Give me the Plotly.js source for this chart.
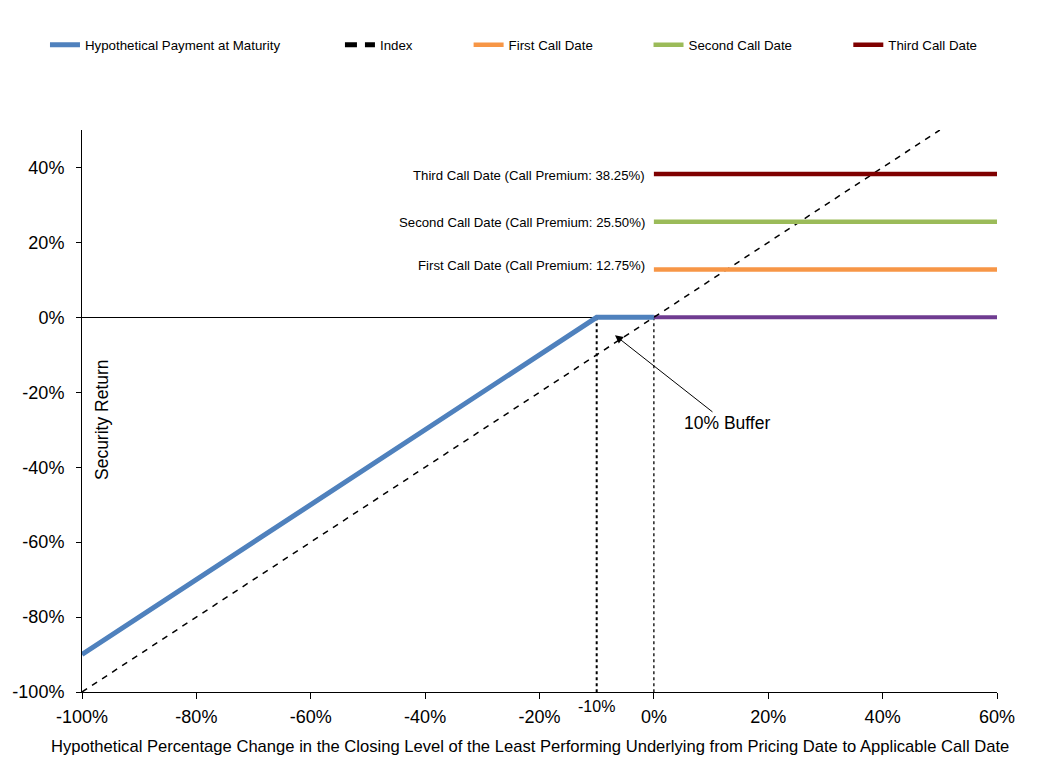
<!DOCTYPE html>
<html>
<head>
<meta charset="utf-8">
<script src="https://cdn.plot.ly/plotly-3.0.1.min.js"></script>
<style>html,body{margin:0;padding:0;background:#fff;}#chart{width:1046px;height:777px;}</style>
</head>
<body>
<div id="chart"></div>
<script>
// ---- data (percent) ----
const paymentX = [-100, -10, 0];
const paymentY = [-90, 0, 0];
const paymentFlatX = [0, 60];
const paymentFlatY = [0, 0];
const indexX = [-100, 50];
const indexY = [-100, 50];
const callX = [0, 60];
const firstCall = [12.75, 12.75];
const secondCall = [25.5, 25.5];
const thirdCall = [38.25, 38.25];
const bufferX = [-10, 0];
const xTicks = [-100, -80, -60, -40, -20, 0, 20, 40, 60];
const yTicks = [-100, -80, -60, -40, -20, 0, 20, 40];
const callLabels = ["First Call Date (Call Premium: 12.75%)", "Second Call Date (Call Premium: 25.50%)", "Third Call Date (Call Premium: 38.25%)"];

const FONT = "Liberation Sans, Arial, sans-serif";
const traces = [
  {x: [bufferX[0], bufferX[0]], y: [0, -100], mode:'lines', line:{color:'#000', width:2, dash:'dot'}, showlegend:false, hoverinfo:'skip'},
  {x: [bufferX[1], bufferX[1]], y: [0, -100], mode:'lines', line:{color:'#000', width:1.3, dash:'dot'}, showlegend:false, hoverinfo:'skip'},
  {x: paymentFlatX, y: paymentFlatY, mode:'lines', line:{color:'#6F3C91', width:4}, showlegend:false, hoverinfo:'skip'},
  {x: paymentX, y: paymentY, mode:'lines', name:'Hypothetical Payment at Maturity', line:{color:'#4F81BD', width:5}, legend:'legend'},
  {x: indexX, y: indexY, mode:'lines', name:'Index', line:{color:'#000', width:1.5, dash:'6px,6px'}, showlegend:false},
  // legend-only entry for the index (thicker dashed symbol, as in the reference legend)
  {x: [null], y: [null], mode:'lines', name:'Index', line:{color:'#000', width:5, dash:'12px,8px'}, legend:'legend2'},
  {x: callX, y: firstCall, mode:'lines', name:'First Call Date', line:{color:'#F79646', width:4.5}, legend:'legend3'},
  {x: callX, y: secondCall, mode:'lines', name:'Second Call Date', line:{color:'#9BBB59', width:4.5}, legend:'legend4'},
  {x: callX, y: thirdCall, mode:'lines', name:'Third Call Date', line:{color:'#7F0000', width:4.5}, legend:'legend5'}
];

function leg(x){
  return {orientation:'h', x:x, xref:'container', y:0.942, yref:'container', xanchor:'left', yanchor:'middle',
          font:{family:FONT, size:13.3, color:'#000'}, bgcolor:'rgba(0,0,0,0)', itemwidth:30};
}

const annotations = [
  ...[firstCall[0], secondCall[0], thirdCall[0]].map((v,i)=>({
    x: 0, y: v, xref:'x', yref:'y', text: callLabels[i], showarrow:false, xanchor:'right', yanchor:'middle',
    xshift:-7, yshift:(i===0?4:-1), font:{family:FONT, size:13.2, color:'#000'}
  })),
  {x:-6.8, y:-4.8, ax:12.8, ay:-28.3, axref:'x', ayref:'y', xref:'x', yref:'y', text:'10% Buffer', showarrow:true,
   arrowhead:2, arrowsize:1.6, arrowwidth:1, arrowcolor:'#000', font:{family:FONT, size:17.5, color:'#000'}},
  {x: bufferX[0], y: 0, xref:'x', yref:'paper', yanchor:'top', yshift:-4, text:'-10%', showarrow:false,
   font:{family:FONT, size:16, color:'#000'}},
  {x: 0.0197, y: 0.484, xref:'paper', yref:'paper', xshift:-10, text:'Security Return', textangle:-90, showarrow:false,
   font:{family:FONT, size:17.5, color:'#000'}},
  {x: 0.4893, y: -0.1174, xref:'paper', yref:'paper', text:'Hypothetical Percentage Change in the Closing Level of the Least Performing Underlying from Pricing Date to Applicable Call Date', showarrow:false,
   font:{family:FONT, size:16.6, color:'#000'}}
];

const layout = {
  width:1046, height:777,
  margin:{l:82, r:49, t:130, b:85},
  paper_bgcolor:'#fff', plot_bgcolor:'#fff',
  font:{family:FONT, color:'#000'},
  xaxis:{range:[-100,60], tickvals:xTicks, ticktext:xTicks.map(v=>v+'%'), showgrid:false, zeroline:false,
         showline:true, linecolor:'#000', linewidth:1, ticks:'outside', ticklen:6, tickcolor:'#000',
         ticklabelstandoff:2, tickfont:{family:FONT, size:18}, fixedrange:true},
  yaxis:{range:[-100,50], tickvals:yTicks, ticktext:yTicks.map(v=>v+'%'), showgrid:false, zeroline:true,
         zerolinecolor:'#000', zerolinewidth:1.5, showline:true, linecolor:'#000', linewidth:1,
         ticks:'outside', ticklen:5, tickcolor:'#000', ticklabelstandoff:8, tickfont:{family:FONT, size:18}, fixedrange:true},
  legend:leg(0.043), legend2:leg(0.325), legend3:leg(0.448), legend4:leg(0.62), legend5:leg(0.811),
  annotations:annotations,
  showlegend:true
};

Plotly.newPlot('chart', traces, layout, {displayModeBar:false, staticPlot:true});
</script>
</body>
</html>
